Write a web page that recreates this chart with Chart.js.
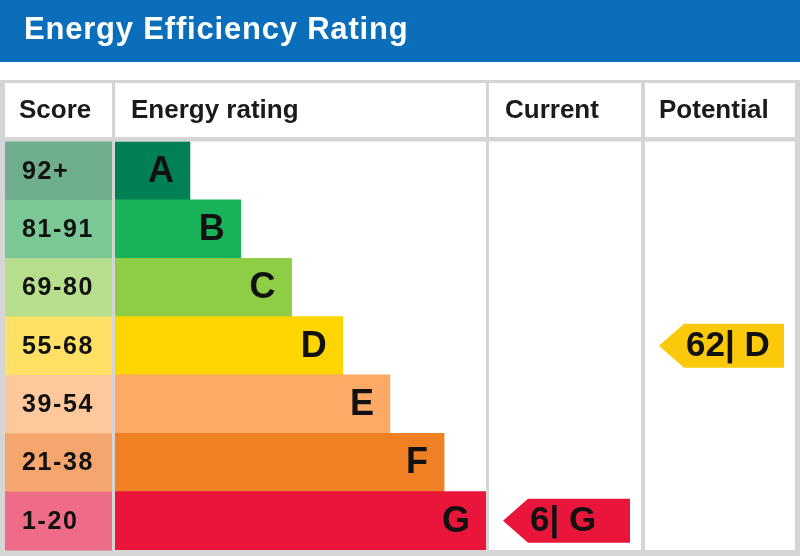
<!DOCTYPE html>
<html>
<head>
<meta charset="utf-8">
<title>Energy Efficiency Rating</title>
<script src="https://cdn.jsdelivr.net/npm/chart.js@4/dist/chart.umd.min.js"></script>
<style>
  html, body { margin: 0; padding: 0; background: #fff; overflow: hidden; }
  canvas { display: block; }
</style>
</head>
<body>
<canvas id="epcChart" width="800" height="556"></canvas>
<script>
// band data
var bands = ['A', 'B', 'C', 'D', 'E', 'F', 'G'];
var scoreRanges = ['92+', '81-91', '69-80', '55-68', '39-54', '21-38', '1-20'];
var bandMinScore = [92, 81, 69, 55, 39, 21, 1];
var barLengths = [20.2, 33.9, 47.6, 61.4, 74.1, 88.7, 100];
var barColors = ['#008054', '#19b459', '#8dce46', '#ffd500', '#fcaa65', '#ef8023', '#e9153b'];
var scoreColors = ['#6fae8c', '#7bc896', '#b6de8c', '#fde064', '#fcc89c', '#f4a66e', '#ee6c87'];

var currentScore = 6;
var potentialScore = 62;

var FONT = "'Liberation Sans', Arial, sans-serif";
var GRID = '#d5d5d5';

function bandIndexFor(score) {
  for (var i = 0; i < bandMinScore.length; i++) {
    if (score >= bandMinScore[i]) return i;
  }
  return bandMinScore.length - 1;
}

// table frame, title and headers
var frame = {
  id: 'frame',
  beforeDraw: function(chart) {
    var c = chart.ctx;
    var y = chart.scales.y;
    var area = chart.chartArea;
    var rowH = (area.bottom - area.top) / bands.length;
    c.save();
    c.fillStyle = '#fff';
    c.fillRect(0, 0, chart.width, chart.height);
    c.fillStyle = '#0a6eba';
    c.fillRect(0, 0, chart.width, 62);
    c.fillStyle = GRID;
    c.fillRect(0, 80, chart.width, chart.height - 80);

    c.fillStyle = '#fff';
    c.fillRect(5, 83, 107, 54);
    c.fillRect(115, 83, 371, 54);
    c.fillRect(489, 83, 152, 54);
    c.fillRect(645, 83, 150, 54);
    c.fillRect(115, area.top, 371, area.bottom - area.top);
    c.fillRect(489, area.top, 152, area.bottom - area.top);
    c.fillRect(645, area.top, 150, area.bottom - area.top);

    // score cells
    for (var i = 0; i < bands.length; i++) {
      var cy = y.getPixelForValue(i);
      c.fillStyle = scoreColors[i];
      c.fillRect(5, cy - rowH / 2, 107, rowH + 0.5);
    }

    c.fillStyle = '#fff';
    c.font = 'bold 31px ' + FONT;
    c.textBaseline = 'middle';
    c.letterSpacing = '0.8px';
    c.fillText('Energy Efficiency Rating', 24, 30);

    c.fillStyle = '#1a1a1a';
    c.font = 'bold 26px ' + FONT;
    c.letterSpacing = '0px';
    c.fillText('Score', 19, 111);
    c.fillText('Energy rating', 131, 111);
    c.fillText('Current', 505, 111);
    c.fillText('Potential', 659, 111);
    c.restore();
  },
  afterDatasetsDraw: function(chart) {
    var c = chart.ctx;
    var meta = chart.getDatasetMeta(0);
    var y = chart.scales.y;
    c.save();
    c.textBaseline = 'middle';
    c.fillStyle = '#111';

    c.font = 'bold 25px ' + FONT;
    c.letterSpacing = '1.6px';
    c.textAlign = 'left';
    for (var i = 0; i < bands.length; i++) {
      c.fillText(scoreRanges[i], 22, y.getPixelForValue(i) + 1);
    }

    c.letterSpacing = '0px';
    c.font = 'bold 36px ' + FONT;
    c.textAlign = 'right';
    meta.data.forEach(function(bar, i) {
      c.fillText(bands[i], bar.x - 16, bar.y + 1);
    });

    drawArrow(c, y, currentScore, 489, 641);
    drawArrow(c, y, potentialScore, 645, 795);
    c.restore();
  }
};

function drawArrow(c, yScale, score, colLeft, colRight) {
  var idx = bandIndexFor(score);
  var cy = yScale.getPixelForValue(idx);
  var h = 44;
  var tip = colLeft + 14;
  var base = tip + 25;
  var right = colRight - 11;
  c.fillStyle = idx === 3 ? '#fcc80a' : barColors[idx];
  c.beginPath();
  c.moveTo(tip, cy);
  c.lineTo(base, cy - h / 2);
  c.lineTo(right, cy - h / 2);
  c.lineTo(right, cy + h / 2);
  c.lineTo(base, cy + h / 2);
  c.closePath();
  c.fill();
  c.fillStyle = '#111';
  c.font = 'bold 35px ' + FONT;
  c.textAlign = 'left';
  c.fillText(score + '| ' + bands[idx], base + 2, cy + 1);
}

var ctx = document.getElementById('epcChart');
var epcChart = new Chart(ctx, {
  type: 'bar',
  data: {
    labels: bands,
    datasets: [{
      data: barLengths,
      backgroundColor: barColors,
      borderWidth: 0,
      barPercentage: 1,
      categoryPercentage: 1
    }]
  },
  options: {
    indexAxis: 'y',
    responsive: false,
    animation: false,
    events: [],
    layout: {
      padding: { left: 115, right: 314, top: 141.5, bottom: 6 }
    },
    scales: {
      x: { display: false, min: 0, max: 100 },
      y: { display: false }
    },
    plugins: {
      legend: { display: false },
      tooltip: { enabled: false }
    }
  },
  plugins: [frame]
});
</script>
</body>
</html>
